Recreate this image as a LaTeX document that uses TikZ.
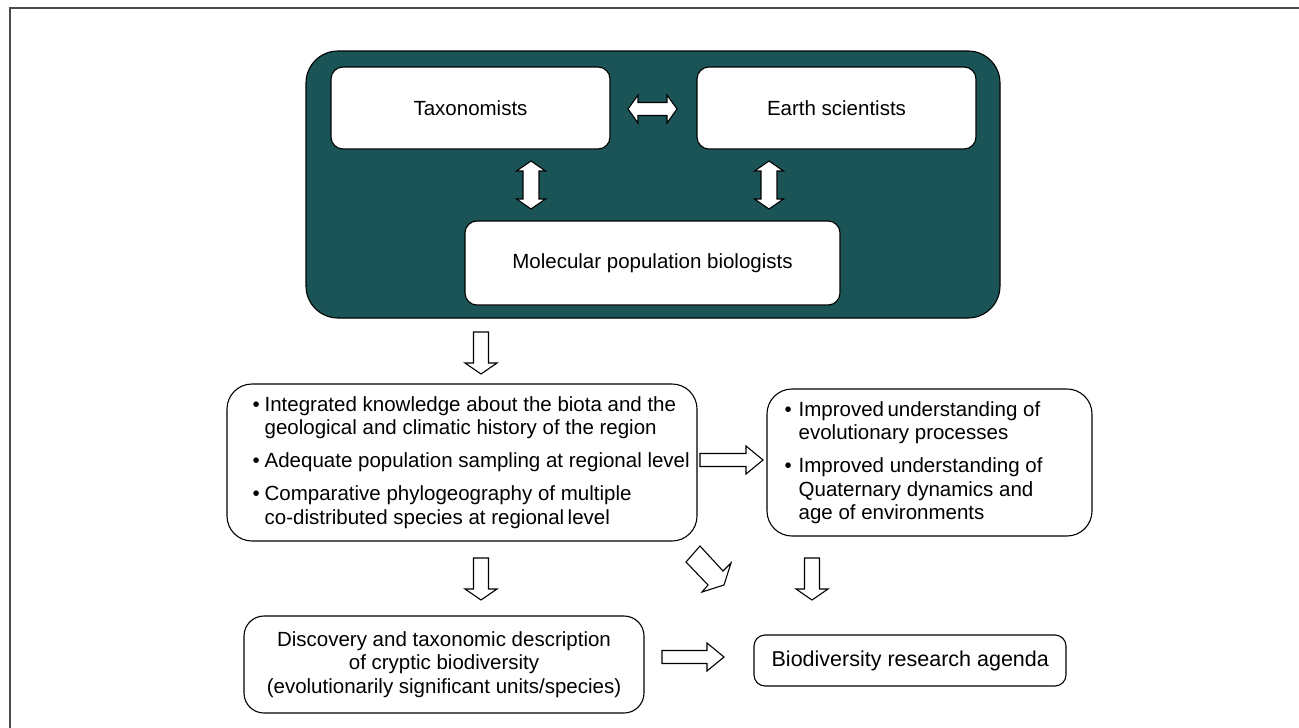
\documentclass[tikz,border=0pt]{standalone}
\usepackage{fontspec}
\setmainfont{Liberation Sans}
\usetikzlibrary{calc}
\definecolor{teal1}{RGB}{27,84,87}
% down arrow: x, ytop, ybot
\newcommand{\blkdown}[3]{\draw[blk] (#1-7.5,#2) -- (#1+7.5,#2) -- (#1+7.5,#3-11) -- (#1+16,#3-11) -- (#1,#3) -- (#1-16,#3-11) -- (#1-7.5,#3-11) -- cycle;}
% right arrow: xleft, xright, y
\newcommand{\blkright}[3]{\draw[blk] (#1,#3-6.5) -- (#2-17,#3-6.5) -- (#2-17,#3-14) -- (#2,#3) -- (#2-17,#3+14) -- (#2-17,#3+6.5) -- (#1,#3+6.5) -- cycle;}
% vertical double arrow: x, ytop, ybot
\newcommand{\blkvdouble}[3]{\draw[blk] (#1,#2) -- (#1+14.5,#2+10) -- (#1+8,#2+10) -- (#1+8,#3-10) -- (#1+14.5,#3-10) -- (#1,#3) -- (#1-14.5,#3-10) -- (#1-8,#3-10) -- (#1-8,#2+10) -- (#1-14.5,#2+10) -- cycle;}
% horizontal double arrow: xleft, xright, y
\newcommand{\blkhdouble}[3]{\draw[blk] (#1,#3) -- (#1+10,#3-14) -- (#1+10,#3-6.5) -- (#2-10,#3-6.5) -- (#2-10,#3-14) -- (#2,#3) -- (#2-10,#3+14) -- (#2-10,#3+6.5) -- (#1+10,#3+6.5) -- (#1+10,#3+14) -- cycle;}
\begin{document}
\begin{tikzpicture}[x=1pt,y=-1pt,
  font=\fontsize{20.5}{23.5}\selectfont,
  box/.style={draw=black, fill=white, line width=1.1pt, rounded corners=12pt, inner sep=0pt},
  blk/.style={draw=black, fill=white, line width=1.1pt, line join=miter}]
\useasboundingbox (0,0) rectangle (1299,728);
\fill[white] (0,0) rectangle (1299,728);
\draw[gray!60!black, line width=2pt] (9.5,728) -- (9.5,7.5) -- (1299,7.5);

% top team box
\node[draw=black, fill=teal1, line width=1.1pt, rounded corners=32pt, minimum width=694, minimum height=267, inner sep=0pt] (team) at (653,184.5) {};
\node[box, minimum width=279, minimum height=82] (tax) at (470.5,108) {Taxonomists};
\node[box, minimum width=279, minimum height=82] (earth) at (836.5,108) {Earth scientists};
\node[box, minimum width=375, minimum height=84] (mol) at (652.5,263) {Molecular population biologists};
\blkhdouble{628}{677}{109}
\blkvdouble{531}{161}{209}
\blkvdouble{769}{161}{209}

\blkdown{481}{332}{374}

% middle boxes
\node[box, rounded corners=25pt, minimum width=470, minimum height=157] (know) at (462,462.5) {};
\node[anchor=west, inner sep=0pt, align=left] (knowtext) at ([xshift=26pt]know.west) {%
\makebox[12pt][l]{•}Integrated knowledge about the biota and the\\
\hspace*{12pt}geological and climatic history of the region\\[9.5pt]
\makebox[12pt][l]{•}Adequate population sampling at regional level\\[9.5pt]
\makebox[12pt][l]{•}Comparative phylogeography of multiple\\
\hspace*{12pt}co-distributed species at regional\,level};

\node[box, rounded corners=25pt, minimum width=325, minimum height=147] (impr) at (929.5,462.5) {};
\node[anchor=west, inner sep=0pt, align=left] (imprtext) at ([xshift=18pt]impr.west) {%
\makebox[14pt][l]{•}Improved\,understanding of\\
\hspace*{14pt}evolutionary processes\\[9.5pt]
\makebox[14pt][l]{•}Improved understanding of\\
\hspace*{14pt}Quaternary dynamics and\\
\hspace*{14pt}age of environments};

\blkright{700}{763}{460}
\blkdown{481}{558}{600}
\blkdown{812}{558}{600}
\draw[blk] (686,562) -- (700,546) -- (723,571) -- (731,563) -- (724,585) -- (702,592) -- (708,585) -- cycle;

% bottom boxes
\node[box, rounded corners=20pt, minimum width=400, minimum height=97, align=center] (disc) at (444,664.5) {Discovery and taxonomic description\\of cryptic biodiversity\\(evolutionarily significant units/species)};
\node[box, rounded corners=11pt, minimum width=312, minimum height=51] (agenda) at (910,660.5) {};
\node[anchor=west, inner sep=0pt, font=\fontsize{21.5}{24}\selectfont] (agendatext) at ([xshift=18pt]agenda.west) {Biodiversity research agenda};
\blkright{662}{724}{657}
\end{tikzpicture}
\end{document}
